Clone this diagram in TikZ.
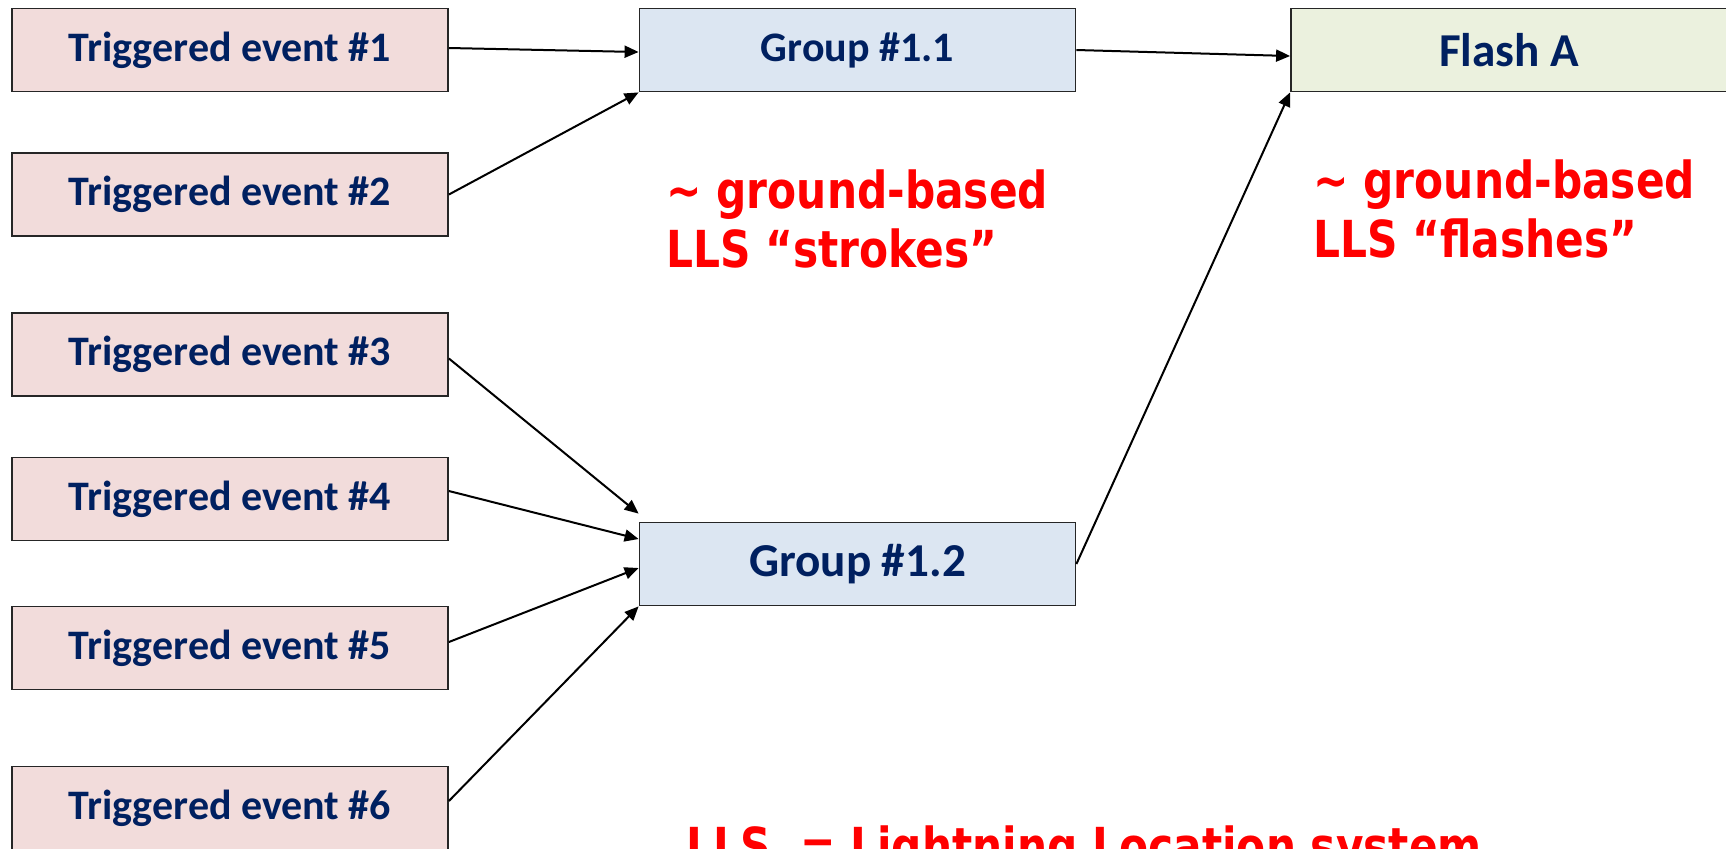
\documentclass[tikz,border=0pt]{standalone}
\usepackage{fontspec}
\usetikzlibrary{arrows.meta}
\newfontfamily\boxfont{Carlito}
\newfontfamily\redfont[FakeStretch=0.83]{DejaVu Sans}
\definecolor{navy}{HTML}{002060}
\definecolor{redtxt}{HTML}{FF0000}
\definecolor{pinkfill}{HTML}{F2DCDB}
\definecolor{bluefill}{HTML}{DCE6F2}
\definecolor{greenfill}{HTML}{EBF1DE}
\tikzset{
  box/.style={draw=black!85, line width=0.9pt, rectangle, inner sep=0pt,
    minimum width=218pt, minimum height=41.5pt, text=navy,
    font=\boxfont\bfseries\fontsize{21}{25}\selectfont},
  bigtext/.style={font=\boxfont\bfseries\fontsize{23.6}{28}\selectfont},
  evbox/.style={box, fill=pinkfill},
  grpbox/.style={box, fill=bluefill},
  flashbox/.style={box, fill=greenfill, bigtext},
  note/.style={text=redtxt, inner sep=0pt, align=left, anchor=base west,
    font=\redfont\bfseries\fontsize{25.5}{29.25}\selectfont},
  conn/.style={line width=1pt, -{Triangle[length=7pt,width=6pt]}}
}
\begin{document}
\begin{tikzpicture}[x=0.5pt,y=-0.5pt]
\useasboundingbox (0,0) rectangle (1726,848);
\clip (0,0) rectangle (1726,848);
\node[evbox] (t1) at (230,50) {Triggered event \#1};
\node[evbox] (t2) at (230,194.5) {Triggered event \#2};
\node[evbox] (t3) at (230,354.5) {Triggered event \#3};
\node[evbox] (t4) at (230,499) {Triggered event \#4};
\node[evbox] (t5) at (230,648) {Triggered event \#5};
\node[evbox] (t6) at (230,808) {Triggered event \#6};
\node[grpbox] (g11) at (857.5,50) {Group \#1.1};
\node[grpbox, bigtext] (g12) at (857.5,564) {Group \#1.2};
\node[flashbox] (fa) at (1509,50) {Flash A};
\node[note] (n1) at (666,267) {\char"7E\ ground-based\\LLS “strokes”};
\node[note] (n2) at (1313,257) {\char"7E\ ground-based\\LLS “flashes”};
\node[note] (n3) at (686,864) {LLS\ \ = Lightning Location system};
\draw[conn] ([yshift=1pt]t1.east) -- ([yshift=-1pt]g11.west);
\draw[conn] (t2.east) -- (g11.south west);
\draw[conn] ([yshift=-2pt]t3.east) -- ([yshift=4pt]g12.north west);
\draw[conn] ([yshift=4pt]t4.east) -- ([yshift=12.5pt]g12.west);
\draw[conn] ([yshift=3pt]t5.east) -- ([yshift=-2pt]g12.west);
\draw[conn] ([yshift=3.5pt]t6.east) -- (g12.south west);
\draw[conn] (g11.east) -- ([yshift=-3pt]fa.west);
\draw[conn] (g12.east) -- (fa.south west);
\end{tikzpicture}
\end{document}
